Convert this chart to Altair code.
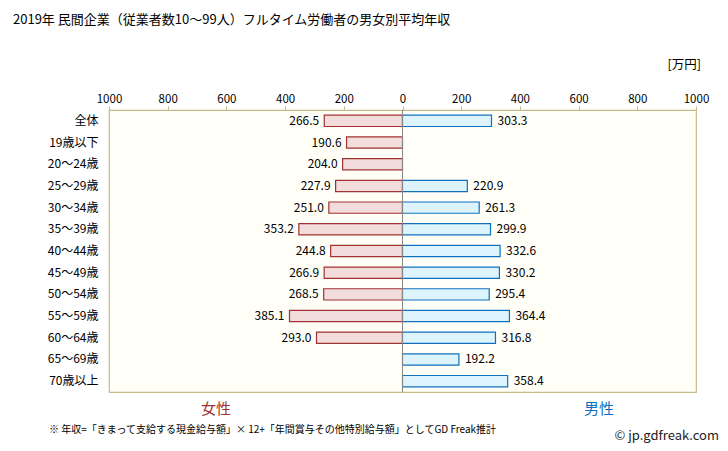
import altair as alt
import pandas as pd

categories = ["全体", "19歳以下", "20〜24歳", "25〜29歳", "30〜34歳", "35〜39歳",
              "40〜44歳", "45〜49歳", "50〜54歳", "55〜59歳", "60〜64歳", "65〜69歳", "70歳以上"]
female = [266.5, 190.6, 204.0, 227.9, 251.0, 353.2, 244.8, 266.9, 268.5, 385.1, 293.0, None, None]
male = [303.3, None, None, 220.9, 261.3, 299.9, 332.6, 330.2, 295.4, 364.4, 316.8, 192.2, 358.4]
tick_values = [-1000, -800, -600, -400, -200, 0, 200, 400, 600, 800, 1000]

title_text = "2019年 民間企業（従業者数10〜99人）フルタイム労働者の男女別平均年収"
unit_text = "[万円]"
female_name = "女性"
male_name = "男性"
note_text = "※ 年収=「きまって支給する現金給与額」× 12+「年間賞与その他特別給与額」としてGD Freak推計"
credit_text = "© jp.gdfreak.com"

rows = []
for c, f, m in zip(categories, female, male):
    if f is not None:
        rows.append({"cat": c, "sex": female_name, "v": -f, "label": f"{f:.1f}"})
    if m is not None:
        rows.append({"cat": c, "sex": male_name, "v": m, "label": f"{m:.1f}"})
df = pd.DataFrame(rows)

FONT = "Noto Sans CJK JP"
TAN = "#C8B98A"

x_enc = alt.X(
    "v:Q",
    scale=alt.Scale(domain=[-1000, 1000], nice=False, zero=True),
    axis=alt.Axis(
        orient="top", values=tick_values, labelExpr="abs(datum.value)",
        title=None, grid=False, tickColor=TAN, domainColor=TAN, tickSize=4,
        labelPadding=2, labelFontSize=11.5, labelColor="#000", labelFont=FONT,
        labelFlush=False, labelOverlap=False,
    ),
)
y_enc = alt.Y(
    "cat:N", sort=categories,
    scale=alt.Scale(domain=categories, paddingInner=0.48, paddingOuter=0.24),
    axis=alt.Axis(title=None, domain=False, ticks=False, labelPadding=11,
                  labelFontSize=12, labelColor="#000", labelFont=FONT),
)

base = alt.Chart(df)

bars = base.mark_bar(strokeWidth=1.2).encode(
    x=x_enc,
    y=y_enc,
    fill=alt.Fill("sex:N", scale=alt.Scale(domain=[female_name, male_name],
                                           range=["#F2DCDC", "#DDF4FD"]), legend=None),
    stroke=alt.Stroke("sex:N", scale=alt.Scale(domain=[female_name, male_name],
                                               range=["#A03232", "#1070C0"]), legend=None),
)

zero_line = alt.Chart(pd.DataFrame({"z": [0]})).mark_rule(color="#888888", strokeWidth=1).encode(
    x=alt.X("z:Q")
)

f_text = base.transform_filter(alt.datum.sex == female_name).mark_text(
    align="right", baseline="middle", dx=-5, fontSize=12, font=FONT, color="#000"
).encode(x="v:Q", y=alt.Y("cat:N", sort=categories), text="label:N")

m_text = base.transform_filter(alt.datum.sex == male_name).mark_text(
    align="left", baseline="middle", dx=6, fontSize=12, font=FONT, color="#000"
).encode(x="v:Q", y=alt.Y("cat:N", sort=categories), text="label:N")


def note(text, x, y, size, color="#000", align="left"):
    return alt.Chart(pd.DataFrame({"t": [text]})).mark_text(
        align=align, baseline="middle", fontSize=size, font=FONT, color=color
    ).encode(x=alt.value(x), y=alt.value(y), text="t:N")


annotations = [
    note(title_text, -96, -90, 13),
    note(unit_text, 592, -45, 12.5, align="right"),
    note(female_name, 107, 299, 15, color="#A03232", align="center"),
    note(male_name, 490, 299, 15, color="#1070C0", align="center"),
    note(note_text, -60, 320, 10),
    note(credit_text, 610, 326, 13, color="#222", align="right"),
]

chart = alt.layer(bars, zero_line, f_text, m_text, *annotations).properties(
    width=587, height=282,
    autosize=alt.AutoSizeParams(type="none"),
    padding={"left": 101, "top": 102, "right": 24, "bottom": 51},
    background="#ffffff",
).configure_view(stroke=TAN, fill="#FFFFF8", strokeWidth=1.2)

chart.save("out.html", embed_options={"renderer": "svg", "actions": False})
